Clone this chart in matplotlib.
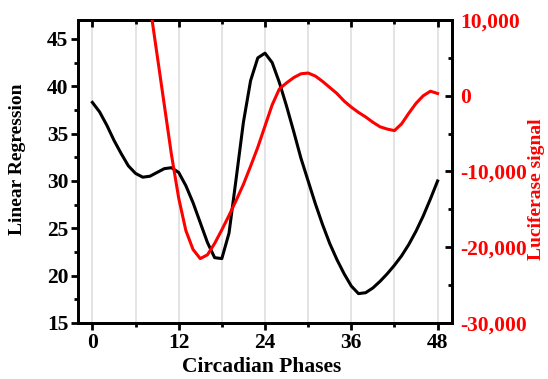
import matplotlib.pyplot as plt
from matplotlib.ticker import MultipleLocator, FuncFormatter

plt.rcParams['font.family'] = ['Liberation Serif', 'DejaVu Serif']
plt.rcParams['font.weight'] = 'bold'

# Linear regression curve (left axis)
phase = list(range(0, 49))
linreg = [38.3, 37.3, 35.9, 34.3, 32.9, 31.6, 30.8, 30.4, 30.5, 30.9,
          31.3, 31.4, 30.9, 29.5, 27.7, 25.6, 23.5, 21.9, 21.8, 24.5,
          30.3, 36.2, 40.6, 43.0, 43.5, 42.5, 40.4, 37.9, 35.2, 32.4,
          30.0, 27.6, 25.4, 23.4, 21.7, 20.2, 18.9, 18.1, 18.2, 18.7,
          19.4, 20.2, 21.1, 22.1, 23.3, 24.7, 26.3, 28.1, 30.0]

# Luciferase signal (right axis)
luc_phase = list(range(8, 49))
luciferase = [12000, 5400, -1200, -7800, -13500, -17800, -20300, -21500, -21000, -19500,
              -17700, -15800, -13800, -11700, -9300, -6800, -4000, -1200, 900, 1700,
              2400, 2900, 3000, 2600, 1900, 1100, 300, -700, -1500, -2200,
              -2800, -3500, -4100, -4400, -4600, -3700, -2300, -1000, 0, 600, 300]

xticks = [0, 12, 24, 36, 48]

fig = plt.figure(figsize=(5.48, 3.79), dpi=100)
ax = fig.add_axes([0.1423, 0.1478, 0.6825, 0.7994])

for g in range(0, 49, 6):
    ax.axvline(g, color='#e4e4e4', lw=1.4, zorder=0)

ax.plot(phase, linreg, color='black', lw=2.2, zorder=3)
ax.set_xlim(-2, 50)
ax.set_ylim(15, 47)
ax.set_xticks(xticks)
ax.xaxis.set_minor_locator(MultipleLocator(6))
ax.yaxis.set_major_locator(MultipleLocator(5))
ax.yaxis.set_minor_locator(MultipleLocator(2.5))
ax.tick_params(axis='x', which='both', direction='out', labelsize=15.5, width=2, pad=2)
ax.tick_params(axis='x', which='major', length=5)
ax.tick_params(axis='x', which='minor', length=3)
ax.tick_params(axis='y', which='major', direction='out', length=5, width=2, labelsize=15.5, pad=2)
ax.tick_params(axis='y', which='minor', direction='out', length=3, width=2)
for s in ax.spines.values():
    s.set_linewidth(2)
ax.set_xlabel('Circadian Phases', fontsize=15.5, fontweight='bold')
ax.xaxis.set_label_coords(0.49, -0.112)
ax.set_ylabel('Linear Regression', fontsize=14, fontweight='bold')
ax.yaxis.set_label_coords(-0.139, 0.54)

# top ticks point inward
top = ax.secondary_xaxis('top')
top.set_xticks(xticks)
top.xaxis.set_minor_locator(MultipleLocator(6))
top.tick_params(axis='x', which='both', direction='in', width=2, labeltop=False)
top.tick_params(axis='x', which='major', length=5)
top.tick_params(axis='x', which='minor', length=3)
top.spines['top'].set_linewidth(2)

ax2 = ax.twinx()
ax2.plot(luc_phase, luciferase, color='#ff0000', lw=2.2, zorder=3)
ax2.set_ylim(-30000, 10000)
ax2.yaxis.set_major_locator(MultipleLocator(10000))
ax2.yaxis.set_minor_locator(MultipleLocator(5000))
ax2.yaxis.set_major_formatter(FuncFormatter(lambda v, p: f'{int(v):,}'))
ax2.tick_params(axis='y', which='both', direction='in', width=2, labelsize=15.5,
                labelcolor='#ff0000', pad=6)
ax2.tick_params(axis='y', which='major', length=5)
ax2.tick_params(axis='y', which='minor', length=3)
ax2.set_ylabel('Luciferase signal', fontsize=14, fontweight='bold', color='#ff0000')
ax2.yaxis.set_label_coords(1.203, 0.44)
for s in ax2.spines.values():
    s.set_linewidth(2)

fig.savefig('out.png', dpi=100)
